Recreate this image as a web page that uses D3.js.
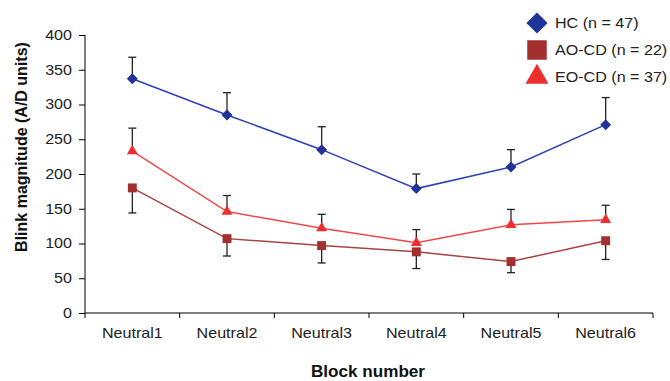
<!DOCTYPE html>
<html><head><meta charset="utf-8">
<script src="https://cdn.jsdelivr.net/npm/d3@7"></script>
<style>body{margin:0;background:#fff}svg{display:block}</style>
</head><body>
<script>
const categories = ["Neutral1","Neutral2","Neutral3","Neutral4","Neutral5","Neutral6"];
const yTicks = [0,50,100,150,200,250,300,350,400];
const hcValues = [337,285,235,179,210,271];
const hcErrPlus = [31,32,33,21,25,39];
const aoValues = [180,107,97,88,74,104];
const aoErrMinus = [36,25,25,24,16,27];
const eoValues = [233,146,122,101,127,134];
const eoErrPlus = [33,23,20,19,22,21];
const seriesNames = ["HC (n = 47)","AO-CD (n = 22)","EO-CD (n = 37)"];

const W=670,H=381;
const svg=d3.select("body").append("svg").attr("width",W).attr("height",H);
const x=d3.scaleBand().domain(categories).range([85,653]);
const y=d3.scaleLinear().domain([0,400]).range([313,35]);
const SX=1.15;
const font="Liberation Sans, Arial, sans-serif";

// axes
const gx=svg.append("g").attr("transform","translate(0,313)");
gx.append("line").attr("x1",85).attr("x2",653).attr("stroke","#000");
const bounds=categories.map(c=>x(c)).concat([x.range()[1]]);
gx.selectAll("line.t").data(bounds).join("line").attr("class","t")
  .attr("x1",d=>d).attr("x2",d=>d).attr("y1",0).attr("y2",5).attr("stroke","#000");
gx.selectAll("text").data(categories).join("text")
  .attr("transform",d=>`translate(${x(d)+x.bandwidth()/2},25) scale(${SX},1)`)
  .attr("text-anchor","middle").attr("font-family",font).attr("font-size",14).attr("fill","#222").text(d=>d);

const gy=svg.append("g").attr("transform","translate(85,0)")
  .call(d3.axisLeft(y).tickValues(yTicks).tickSize(6).tickPadding(8));
gy.select(".domain").attr("d",`M0,${y(400)}V${y(0)}`).attr("stroke","#000");
gy.selectAll(".tick line").attr("stroke","#000");
gy.selectAll(".tick text").attr("font-family",font).attr("font-size",14).attr("fill","#222")
  .attr("x",null).attr("transform",`translate(-13,0) scale(${SX},1)`);

// titles
svg.append("text").attr("transform",`translate(368,377) scale(1.07,1)`).attr("text-anchor","middle")
  .attr("font-family",font).attr("font-weight","bold").attr("font-size",16).attr("fill","#111").text("Block number");
svg.append("text").attr("transform",`translate(27,147) rotate(-90)`).attr("text-anchor","middle")
  .attr("font-family",font).attr("font-weight","bold").attr("font-size",16).attr("fill","#111").text("Blink magnitude (A/D units)");

const cx=d=>x(d)+x.bandwidth()/2;
function series(vals,errs,dir,lineColor,markColor,shape,size,rot){
  const data=categories.map((c,i)=>({c,v:vals[i],e:errs[i]}));
  const g=svg.append("g");
  data.forEach(d=>{
    const y1=y(d.v), y2=y(d.v+dir*d.e);
    g.append("line").attr("x1",cx(d.c)).attr("x2",cx(d.c)).attr("y1",y1).attr("y2",y2).attr("stroke","#222").attr("stroke-width",1.3);
    g.append("line").attr("x1",cx(d.c)-4).attr("x2",cx(d.c)+4).attr("y1",y2).attr("y2",y2).attr("stroke","#222").attr("stroke-width",1.3);
  });
  svg.append("path").datum(data).attr("fill","none").attr("stroke",lineColor).attr("stroke-width",1.5)
    .attr("d",d3.line().x(d=>cx(d.c)).y(d=>y(d.v)));
  svg.append("g").selectAll("path").data(data).join("path")
    .attr("transform",d=>`translate(${cx(d.c)},${y(d.v)}) rotate(${rot})`)
    .attr("d",d3.symbol().type(shape).size(size)).attr("fill",markColor);
}
series(hcValues,hcErrPlus,1,"#2f40b8","#1f3399",d3.symbolSquare,60,45);
series(eoValues,eoErrPlus,1,"#f04848","#ee2e2e",d3.symbolTriangle,52,0);
series(aoValues,aoErrMinus,-1,"#a84444","#a3302e",d3.symbolSquare,80,0);

// legend
const leg=[{n:seriesNames[0],c:"#1f3399",s:d3.symbolSquare,sz:225,r:45,y:23},
           {n:seriesNames[1],c:"#a3302e",s:d3.symbolSquare,sz:380,r:0,y:50},
           {n:seriesNames[2],c:"#ee2e2e",s:d3.symbolTriangle,sz:230,r:0,y:77}];
const lg=svg.append("g");
lg.selectAll("path").data(leg).join("path")
  .attr("transform",d=>`translate(537,${d.y}) rotate(${d.r})`).attr("d",d=>d3.symbol().type(d.s).size(d.sz)()).attr("fill",d=>d.c);
lg.selectAll("text").data(leg).join("text")
  .attr("transform",d=>`translate(555,${d.y+5}) scale(${SX},1)`)
  .attr("font-family",font).attr("font-size",14).attr("fill","#222").text(d=>d.n);
</script>
</body></html>
